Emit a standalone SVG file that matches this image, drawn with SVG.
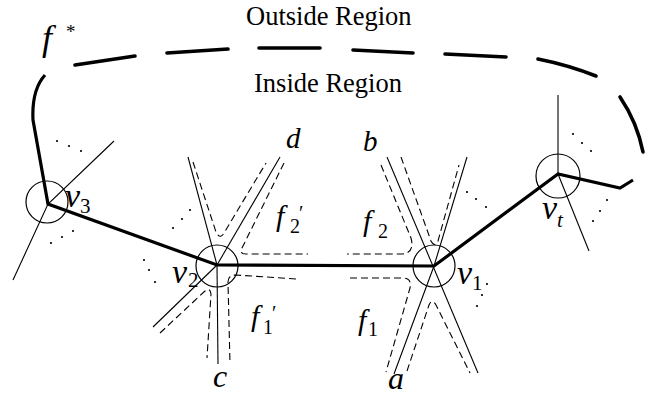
<svg xmlns="http://www.w3.org/2000/svg" width="662" height="395" viewBox="0 0 662 395">
<style>
.thick{fill:none;stroke:#000;stroke-width:3.2;stroke-linejoin:miter;stroke-linecap:butt}
.outer{fill:none;stroke:#000;stroke-width:3.6;stroke-linecap:round}
.thin{fill:none;stroke:#000;stroke-width:1.1}
.dash{fill:none;stroke:#000;stroke-width:1.1;stroke-dasharray:7,4}
.vc{fill:none;stroke:#000;stroke-width:1.2}
.dot{fill:#000}
.rm{font-family:"Liberation Serif","Times New Roman",serif;font-size:26.5px;fill:#000}
.it{font-family:"Liberation Serif","Times New Roman",serif;font-style:italic;fill:#000}
.sub{font-family:"Liberation Serif","Times New Roman",serif;font-style:normal;fill:#000}
</style>
<rect width="662" height="395" fill="#fff"/>
<text class="rm" x="246" y="25">Outside Region</text>
<text class="rm" x="254" y="92">Inside Region</text>
<g id="fstar"><text class="it" x="42" y="50" font-size="36">f</text><text class="sub" x="66" y="38" font-size="19">*</text></g>
<g id="connectors">
<path class="outer" d="M75,65 L135,56"/>
<path class="outer" d="M167,53 L228,49"/>
<path class="outer" d="M259,48 L320,48"/>
<path class="outer" d="M353,50 L413,53"/>
<path class="outer" d="M445,54 L506,57"/>
<path class="outer" d="M538,59 Q568,65 596,76"/>
<path class="outer" d="M620,97 Q637,122 643,152"/>
<path class="thick" d="M45,75 C36,85 32,100 33,120 L48,204 L217,265 L434,266 L558,174 L620,188 L633,180"/>
<polyline class="thin" points="114,141 48,204 13,280"/>
<line class="thin" x1="188" y1="157" x2="217" y2="265"/>
<line class="thin" x1="280" y1="157" x2="217" y2="265"/>
<line class="thin" x1="217" y1="265" x2="153" y2="327"/>
<line class="thin" x1="217" y1="265" x2="218" y2="364"/>
<line class="thin" x1="387" y1="157" x2="478" y2="373"/>
<polyline class="thin" points="394,374 434,266 467,157"/>
<line class="thin" x1="558" y1="95" x2="558" y2="174"/>
<line class="thin" x1="558" y1="174" x2="589" y2="251"/>
<path class="dash" d="M193,162 L216,232 Q220,240 224,233 L266,163"/>
<path class="dash" d="M284,163 L242,248 Q239,254 246,254 L308,254"/>
<path class="dash" d="M296,279 L236,275 Q228,275 228,282 L230,364"/>
<path class="dash" d="M160,333 L205,291 Q210,287 211,294 L207,358"/>
<path class="dash" d="M381,165 L411,238 Q415,253 402,254 L347,254"/>
<path class="dash" d="M350,278 L403,278 Q412,278 410,288 L386,372"/>
<path class="dash" d="M401,157 L431,241 Q435,248 438,241 L459,165"/>
<path class="dash" d="M407,371 L429,305 Q432,298 436,305 L470,373"/>
</g>
<g id="dots">
<circle class="dot" cx="57" cy="141" r="1.1"/><circle class="dot" cx="69" cy="146" r="1.1"/><circle class="dot" cx="81" cy="151" r="1.1"/>
<circle class="dot" cx="51" cy="243" r="1.1"/><circle class="dot" cx="62" cy="237" r="1.1"/><circle class="dot" cx="73" cy="231" r="1.1"/>
<circle class="dot" cx="173" cy="228" r="1.1"/><circle class="dot" cx="182" cy="219" r="1.1"/><circle class="dot" cx="190" cy="210" r="1.1"/>
<circle class="dot" cx="144" cy="260" r="1.1"/><circle class="dot" cx="149" cy="270" r="1.1"/><circle class="dot" cx="155" cy="282" r="1.1"/>
<circle class="dot" cx="467" cy="192" r="1.1"/><circle class="dot" cx="476" cy="199" r="1.1"/><circle class="dot" cx="486" cy="207" r="1.1"/>
<circle class="dot" cx="487" cy="284" r="1.1"/><circle class="dot" cx="482" cy="295" r="1.1"/><circle class="dot" cx="477" cy="306" r="1.1"/>
<circle class="dot" cx="573" cy="134" r="1.1"/><circle class="dot" cx="582" cy="143" r="1.1"/><circle class="dot" cx="591" cy="151" r="1.1"/>
<circle class="dot" cx="607" cy="200" r="1.1"/><circle class="dot" cx="600" cy="211" r="1.1"/><circle class="dot" cx="593" cy="221" r="1.1"/>
</g>
<g id="v3"><circle class="vc" cx="47" cy="202" r="21"/><text class="it" x="65" y="207" font-size="34">v</text><text class="sub" x="80" y="213" font-size="21">3</text></g>
<g id="v2"><circle class="vc" cx="217" cy="266" r="21"/><text class="it" x="172" y="283" font-size="34">v</text><text class="sub" x="188" y="287" font-size="21">2</text></g>
<g id="v1"><circle class="vc" cx="434" cy="266" r="21"/><text class="it" x="457" y="284" font-size="34">v</text><text class="sub" x="472" y="290" font-size="21">1</text></g>
<g id="vt"><circle class="vc" cx="558" cy="176" r="22"/><text class="it" x="542" y="219" font-size="34">v</text><text class="it" x="557" y="227" font-size="21">t</text></g>
<g id="labels">
<text class="it" x="286" y="148" font-size="29">d</text>
<text class="it" x="363" y="151" font-size="29">b</text>
<text class="it" x="213" y="387" font-size="32">c</text>
<text class="it" x="388" y="389" font-size="32">a</text>
<text><tspan class="it" x="276" y="226" font-size="30">f</tspan><tspan class="sub" x="290" y="233" font-size="20">2</tspan><tspan class="sub" x="299" y="220" font-size="20">′</tspan></text>
<text><tspan class="it" x="251" y="326" font-size="30">f</tspan><tspan class="sub" x="263" y="334" font-size="20">1</tspan><tspan class="sub" x="272" y="320" font-size="20">′</tspan></text>
<text><tspan class="it" x="363" y="231" font-size="30">f</tspan><tspan class="sub" x="378" y="238" font-size="20">2</tspan></text>
<text><tspan class="it" x="358" y="330" font-size="30">f</tspan><tspan class="sub" x="368" y="336" font-size="20">1</tspan></text>
</g>
</svg>
